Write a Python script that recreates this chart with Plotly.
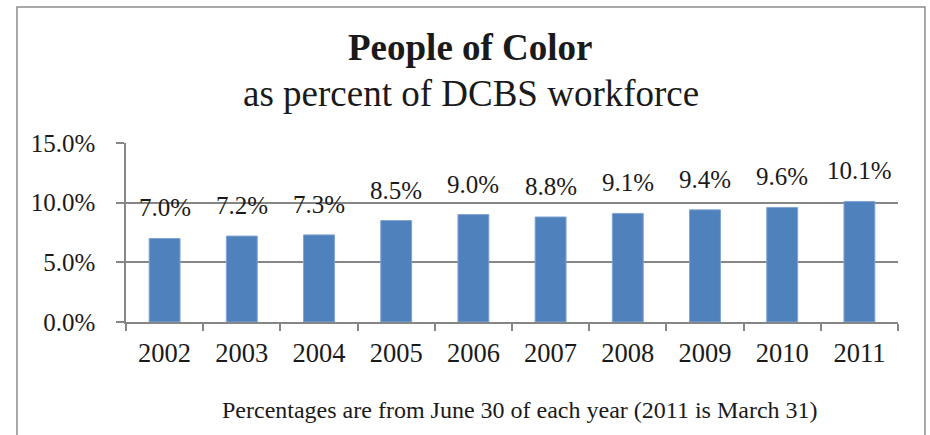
import plotly.graph_objects as go

years = ["2002", "2003", "2004", "2005", "2006", "2007", "2008", "2009", "2010", "2011"]
pct_values = [7.0, 7.2, 7.3, 8.5, 9.0, 8.8, 9.1, 9.4, 9.6, 10.1]
y_ticks = [0, 5, 10, 15]
y_tick_labels = ["0.0%", "5.0%", "10.0%", "15.0%"]

title_text = "People of Color"
subtitle_text = "as percent of DCBS workforce"
footnote_text = "Percentages are from June 30 of each year (2011 is March 31)"

FONT = "Liberation Serif, Times New Roman, serif"
GRID = "#868686"
BAR = "#4F81BD"
TXT = "#1a1a1a"

W, H = 930, 435
ML, MR, MT, MB = 126, 32, 143, 113
PW, PH = W - ML - MR, H - MT - MB


def px_to_paper_x(px):
    return (px - ML) / PW


def px_to_paper_y(py):
    return (H - MB - py) / PH


fig = go.Figure()
fig.add_trace(go.Bar(
    x=years, y=pct_values,
    marker=dict(color=BAR, line=dict(color="#7FA3D3", width=1)),
    width=0.4,
    hoverinfo="x+y",
))

annotations = []
for i, v in enumerate(pct_values):
    annotations.append(dict(
        x=i, y=v, xref="x", yref="y", text=f"{v:.1f}%",
        showarrow=False, yanchor="bottom", yshift=15,
        font=dict(family=FONT, size=25, color=TXT),
    ))

annotations += [
    dict(x=px_to_paper_x(470), y=px_to_paper_y(48), xref="paper", yref="paper",
         text=f"<b>{title_text}</b>", showarrow=False, xanchor="center", yanchor="middle",
         font=dict(family=FONT, size=37, color=TXT)),
    dict(x=px_to_paper_x(471), y=px_to_paper_y(93), xref="paper", yref="paper",
         text=subtitle_text, showarrow=False, xanchor="center", yanchor="middle",
         font=dict(family=FONT, size=37, color=TXT)),
    dict(x=px_to_paper_x(520), y=px_to_paper_y(410), xref="paper", yref="paper",
         text=footnote_text, showarrow=False, xanchor="center", yanchor="middle",
         font=dict(family=FONT, size=24, color=TXT)),
]

fig.update_layout(
    width=W, height=H,
    margin=dict(l=ML, r=MR, t=MT, b=MB, pad=0, autoexpand=False),
    paper_bgcolor="white", plot_bgcolor="white",
    showlegend=False,
    annotations=annotations,
    font=dict(family=FONT, size=25, color=TXT),
    shapes=[dict(
        type="rect", xref="paper", yref="paper",
        x0=px_to_paper_x(17), x1=px_to_paper_x(925),
        y0=px_to_paper_y(445), y1=px_to_paper_y(7),
        line=dict(color="#8C8C8C", width=1.5), fillcolor="rgba(0,0,0,0)",
        layer="below",
    )],
    xaxis=dict(
        type="category", range=[-0.5, len(years) - 0.5], automargin=False,
        showgrid=False, showline=True, linecolor=GRID, linewidth=1.5,
        ticks="outside", tickson="boundaries", ticklen=7, tickcolor=GRID, tickwidth=1.5,
        tickfont=dict(family=FONT, size=26.5, color=TXT), tickangle=0,
        ticklabelstandoff=6,
    ),
    yaxis=dict(
        range=[0, 15], tickvals=y_ticks, ticktext=y_tick_labels, automargin=False,
        showgrid=True, gridcolor=GRID, gridwidth=1.5,
        showline=True, linecolor=GRID, linewidth=1.5,
        ticks="outside", ticklen=8, tickcolor=GRID, tickwidth=1.5,
        tickfont=dict(family=FONT, size=25, color=TXT),
        ticklabelstandoff=16, zeroline=False,
    ),
    bargap=0.6,
)

fig.write_html("out.html", config={"displayModeBar": False},
               post_script="document.body.style.margin='0';")
